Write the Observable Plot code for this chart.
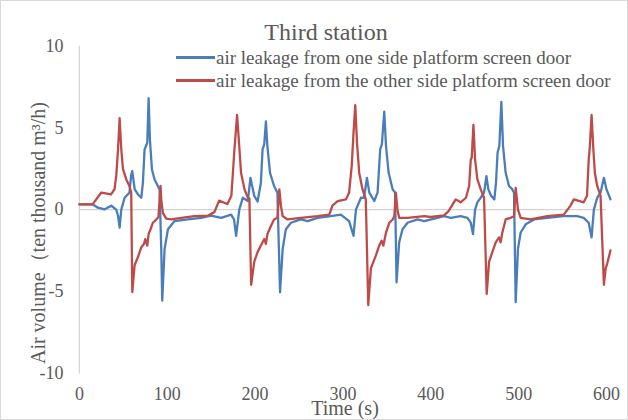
<!DOCTYPE html>
<html>
<head>
<meta charset="utf-8">
<script src="https://cdn.jsdelivr.net/npm/d3@7"></script>
<script src="https://cdn.jsdelivr.net/npm/@observablehq/plot@0.6"></script>
<style>
  html, body { margin: 0; padding: 0; background: #fff; }
  #wrap { position: relative; width: 628px; height: 420px; box-sizing: border-box; border: 1px solid #d9d9d9; overflow: hidden; font-family: "Liberation Serif", "Times New Roman", serif; color: #595959; }
  #chart { position: absolute; left: -1px; top: -1px; }
  .ov { position: absolute; white-space: nowrap; line-height: 1; }
  #title { left: 0; width: 650px; text-align: center; top: 19px; font-size: 24px; }
  .leg { position: absolute; left: 175px; font-size: 19px; display: flex; align-items: center; white-space: nowrap; line-height: 1; }
  .leg span.sw { display: inline-block; width: 39px; height: 2.5px; margin-right: 1px; }
  #ytitle { left: 37px; top: 232px; font-size: 20px; transform: translate(-50%, -50%) rotate(-90deg); }
  #xtitle { left: 344px; top: 407px; font-size: 20px; transform: translate(-50%, -50%); }
</style>
</head>
<body>
<div id="wrap">
  <div id="chart"></div>
  <div class="ov" id="title">Third station</div>
  <div class="leg" id="leg1" style="top:47px"></div>
  <div class="leg" id="leg2" style="top:70px"></div>
  <div class="ov" id="ytitle">Air volume（ten thousand m³/h)</div>
  <div class="ov" id="xtitle">Time (s)</div>
</div>
<script>
// Series names
const seriesNames = [
  "air leakage from one side platform screen door",
  "air leakage from the other side platform screen door"
];
const seriesColors = ["#4a7ebb", "#be4b48"];

// Tick labels
const xTicks = [0, 100, 200, 300, 400, 500, 600];
const yTicks = [-10, -5, 0, 5, 10];

// Blue series: air leakage from one side platform screen door
const tBlue = [0,15.5,21,28.8,36.4,42,44,45.8,47.7,51.5,57,59,60.2,63,66.7,70.5,72.3,74.2,77.3,78.8,80.3,82.6,85.6,91.3,93.2,94.3,97,100.8,108.3,123.5,138.6,150,161.4,172.7,176,178.4,182,186,191.7,194.7,199,202.8,206.6,208.5,210.4,212.3,214,217,221.6,225.4,228.4,231.4,235,240.8,252,259.8,271,286.3,297.6,307,312,314.8,320.5,324,327.3,330,335.6,339.4,342.4,344.3,347,349,352,356.6,359.3,361,364,367.8,373.5,385,392.4,407.6,415,422.7,434,441.7,445.5,448,450.4,453,456.8,460.6,463.3,465.5,468.6,472.3,474.2,476,478,480.3,482.2,485.2,489,492.8,494.7,496.6,499.2,502.3,508,517.4,532.5,551.4,566.5,574,579.7,583,585.6,589.4,593.2,597,600,604.5];
const vBlue = [0.32,0.32,0.12,0.02,0.24,0,-0.37,-1.1,0,0.73,1.04,2.15,2.36,1.24,0.93,0.73,1.65,3.68,4.1,6.83,4.3,2.46,1.85,1.24,-2.4,-5.57,-2.4,-1.2,-0.7,-0.6,-0.5,-0.37,-0.5,-0.3,-0.6,-1.6,0,0.73,0.53,1.95,0.85,0.5,1.65,3.7,4.0,5.4,3.9,2.26,1.45,1.04,-5.06,-2.4,-1.2,-0.8,-0.6,-0.7,-0.5,-0.4,-0.3,-0.7,-1.6,0,0.73,0.73,1.95,1.04,0.53,1.04,3.7,4.0,6.0,3.9,2.26,1.24,1.04,-4.45,-2.0,-1.2,-0.8,-0.6,-0.7,-0.5,-0.4,-0.5,-0.4,-0.5,-0.8,-1.5,0,0.45,0.73,1.04,2.05,1.24,0.85,0.63,1.65,3.5,3.9,6.6,3.9,2.26,1.45,1.24,1.04,-5.67,-2.4,-1.4,-0.9,-0.6,-0.5,-0.4,-0.4,-0.5,-0.8,-1.7,0,0.73,1.04,1.95,1.24,0.63];

// Red series: air leakage from the other side platform screen door
const tRed = [0,15,25,36,40,42,44,45.8,47.7,49.6,53.4,57,59,60.2,62.9,66.7,70.5,73.5,75,77.3,78.8,81,83.7,87.5,90,92.4,93.2,95,98.9,104.5,115.9,131,146,153.7,159,168.5,173,176.5,179.5,182.2,184,188,191.7,193.5,195.5,199,202.8,206.6,208.5,210.4,212.3,214,218,221.6,225.4,227.6,229.5,231.4,237,252,271,284.5,288,294,303.4,307,310,312,314,316,318.5,322.3,326,328.8,331.8,337.5,341.3,344,346,349,352.8,356.6,358.5,360.2,362,364,373.5,392.4,400,415,420,428.4,434,440,443.6,445.5,446.6,448.5,450.4,453,456.8,460.6,463.6,466.3,470,473.9,477.7,479.5,481.4,485.2,490.9,494.7,496.6,499.2,502.3,513.6,532.5,551.4,559,562.8,574,577.8,579.7,580.8,583,585,586.7,589.4,593.2,597,599,600.8,604.5];
const vRed = [0.32,0.32,1.05,0.93,1.25,2.1,3.7,5.6,3.7,2.5,1.85,1.45,1.05,-5.05,-3.4,-2.9,-2.3,-2.1,-1.8,-2.2,-1.5,-1.2,-0.8,-0.6,-0.45,1.45,0.6,-0.2,-0.55,-0.6,-0.5,-0.4,-0.37,-0.15,0.55,0.35,0.85,3.7,5.8,3.7,2.26,1.24,0.73,0.7,-4.6,-3.2,-2.6,-2.2,-2.0,-1.8,-2.1,-1.5,-1.0,-0.6,-0.5,1.24,0.2,-0.4,-0.6,-0.5,-0.4,-0.3,0.25,0.53,0.63,1.04,2.7,4.7,6.4,4.1,2.25,1.24,0.63,-5.85,-3.6,-2.8,-2.2,-1.9,-2.2,-1.4,-0.8,-0.6,-0.4,1.04,0,-0.5,-0.5,-0.4,-0.45,-0.35,-0.1,0.63,0.45,0.73,1.45,3.07,3.2,5.2,3.07,1.85,1.24,0.73,-5.16,-3.2,-2.6,-2.0,-1.7,-2.0,-1.4,-0.6,-0.5,-0.4,1.34,0,-0.5,-0.6,-0.4,-0.3,0.25,0.63,0.45,0.85,3.07,3.7,5.8,3.7,2.26,1.45,0.85,-4.6,-3.6,-3.3,-2.5];

const blue = tBlue.map((t, i) => ({t, v: vBlue[i], s: seriesNames[0]}));
const red = tRed.map((t, i) => ({t, v: vRed[i], s: seriesNames[1]}));

const chart = Plot.plot({
  width: 628,
  height: 420,
  marginLeft: 79,
  marginRight: 21,
  marginTop: 46,
  marginBottom: 47,
  style: {fontFamily: "'Liberation Serif', 'Times New Roman', serif", fontSize: "18px", color: "#595959", background: "transparent", overflow: "visible"},
  x: {domain: [0, 600]},
  y: {domain: [-10, 10]},
  marks: [
    Plot.ruleY([0], {stroke: "#d4d4d4", strokeWidth: 1.2}),
    Plot.frame({anchor: "left", stroke: "#d4d4d4", strokeWidth: 1.2}),
    Plot.axisY({ticks: yTicks, tickSize: 0, tickPadding: 16, label: null, tickFormat: d => String(d).replace("−", "-")}),
    Plot.axisX({ticks: xTicks, tickSize: 0, tickPadding: 14, label: null}),
    Plot.line(blue, {x: "t", y: "v", stroke: seriesColors[0], strokeWidth: 2.3, curve: "linear"}),
    Plot.line(red, {x: "t", y: "v", stroke: seriesColors[1], strokeWidth: 2.3, curve: "linear"})
  ]
});
document.getElementById("chart").appendChild(chart);

["leg1", "leg2"].forEach((id, i) => {
  const el = document.getElementById(id);
  const sw = document.createElement("span");
  sw.className = "sw";
  sw.style.background = seriesColors[i];
  el.appendChild(sw);
  const tx = document.createElement("span");
  tx.textContent = seriesNames[i];
  el.appendChild(tx);
});
</script>
</body>
</html>
